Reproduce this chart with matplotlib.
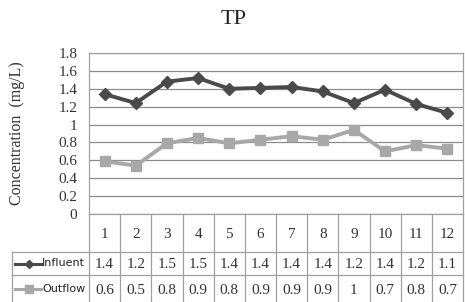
import matplotlib
matplotlib.use("Agg")
import matplotlib.pyplot as plt

months = [1, 2, 3, 4, 5, 6, 7, 8, 9, 10, 11, 12]
influent = [1.34, 1.24, 1.48, 1.52, 1.40, 1.41, 1.42, 1.37, 1.24, 1.39, 1.23, 1.13]
outflow = [0.59, 0.54, 0.79, 0.85, 0.79, 0.83, 0.87, 0.83, 0.94, 0.70, 0.77, 0.73]
influent_labels = ["1.4", "1.2", "1.5", "1.5", "1.4", "1.4", "1.4", "1.4", "1.2", "1.4", "1.2", "1.1"]
outflow_labels = ["0.6", "0.5", "0.8", "0.9", "0.8", "0.9", "0.9", "0.9", "1", "0.7", "0.8", "0.7"]
yticks = [0, 0.2, 0.4, 0.6, 0.8, 1.0, 1.2, 1.4, 1.6, 1.8]
ytick_labels = ["0", "0.2", "0.4", "0.6", "0.8", "1", "1.2", "1.4", "1.6", "1.8"]

W, H = 465, 302
fig = plt.figure(figsize=(W / 100, H / 100), dpi=100)
serif = "Liberation Serif"
sans = "DejaVu Sans"
num_fs = 11

def fx(px):
    return px / W

def fy(py):
    return 1 - py / H

grid_c = "#8c8c8c"
border_c = "#a0a0a0"
inf_c = "#4a4a4a"
out_c = "#a8a8a8"
txt_c = "#333333"

x_left, x_right = 89, 463
y_top, y_bot = 53, 214
ax = fig.add_axes([fx(x_left), fy(y_bot), fx(x_right) - fx(x_left), fy(y_top) - fy(y_bot)])
ax.set_xlim(0.5, 12.5)
ax.set_ylim(0, 1.8)
ax.set_yticks(yticks)
ax.set_yticklabels(ytick_labels, fontfamily=serif, fontsize=num_fs, color=txt_c)
ax.set_xticks([])
ax.tick_params(axis="y", length=0, pad=8.5)
for s in ax.spines.values():
    s.set_color(border_c)
    s.set_linewidth(0.9)
ax.yaxis.grid(True, color=grid_c, linewidth=0.9)
ax.set_axisbelow(True)

ax.plot(months, influent, color=inf_c, linewidth=2.8, marker="D", markersize=6,
        markerfacecolor=inf_c, markeredgecolor=inf_c, zorder=3)
ax.plot(months, outflow, color=out_c, linewidth=2.8, marker="s", markersize=7,
        markerfacecolor=out_c, markeredgecolor=out_c, zorder=3)

fig.text(fx(234), fy(20), "TP", ha="center", va="center", fontfamily=serif, fontsize=16, color="#222222")
fig.text(fx(17), fy(133), "Concentration  (mg/L)", ha="center", va="center", rotation=90,
         fontfamily=serif, fontsize=11.5, color=txt_c)

# table axes, sharing x data scale
tax = fig.add_axes([fx(x_left), 0, fx(x_right) - fx(x_left), fy(y_bot)], sharex=ax)
tax.set_ylim(H, y_bot)
tax.axis("off")
row1, row2 = 252, 275
lw = 0.9
for b in [i + 0.5 for i in range(0, 13)]:
    tax.plot([b, b], [y_bot, H], color=border_c, linewidth=lw, clip_on=False)
col_w = (x_right - x_left) / 12

def px2x(px):
    return 0.5 + (px - x_left) / col_w

x_leg = px2x(12)
for yy in [row1, row2]:
    tax.plot([x_leg, 12.5], [yy, yy], color=border_c, linewidth=lw, clip_on=False)
tax.plot([x_leg, x_leg], [row1, H], color=border_c, linewidth=lw, clip_on=False)

for m, il, ol in zip(months, influent_labels, outflow_labels):
    tax.text(m, 235, str(m), ha="center", va="center", fontfamily=serif,
             fontsize=num_fs, color=txt_c)
    tax.text(m, 264.5, il, ha="center", va="center", fontfamily=serif,
             fontsize=num_fs, color=txt_c)
    tax.text(m, 290, ol, ha="center", va="center", fontfamily=serif,
             fontsize=num_fs, color=txt_c)

for yy, c, mk, ms, lab in [(263.5, inf_c, "D", 4.5, "Influent"),
                           (288.5, out_c, "s", 5.5, "Outflow")]:
    tax.plot([px2x(15), px2x(41)], [yy, yy], color=c, linewidth=2.2, clip_on=False)
    tax.plot([px2x(29)], [yy], color=c, marker=mk, markersize=ms, clip_on=False)
    tax.text(px2x(42), yy, lab, ha="left", va="center", fontfamily=sans, fontsize=8,
             color="#222222", clip_on=False)

fig.savefig("out.png", dpi=100)
